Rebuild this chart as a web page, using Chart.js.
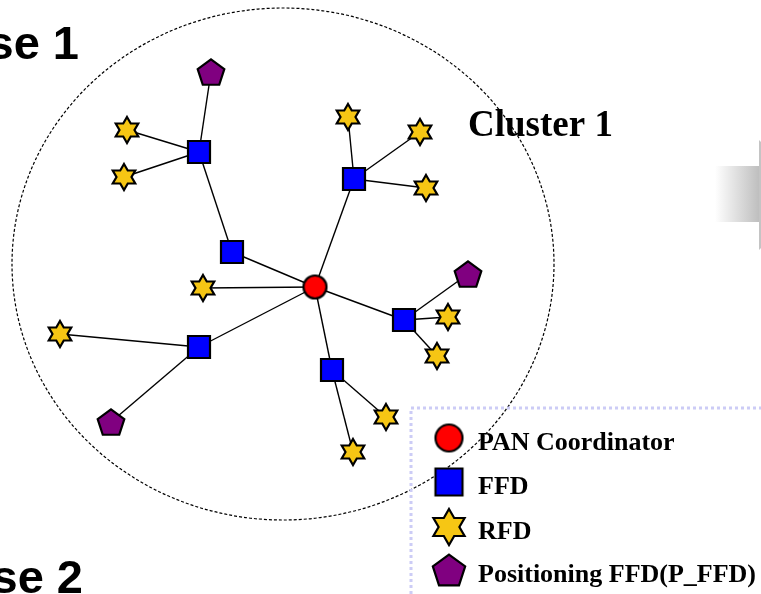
<!DOCTYPE html>
<html>
<head>
<meta charset="utf-8">
<script src="https://cdn.jsdelivr.net/npm/chart.js@4/dist/chart.umd.min.js"></script>
<style>
  html, body { margin: 0; padding: 0; background: #ffffff; }
  #wrap { width: 761px; height: 594px; }
</style>
</head>
<body>
<div id="wrap"><canvas id="netChart" width="761" height="594"></canvas></div>
<script>
// NODES (picture coordinates, y downwards)
const panNode   = [[315, 287]];
const ffdNodes  = [[199, 152], [354, 179], [232, 252], [404, 320], [199, 347], [332, 370]];
const rfdNodes  = [[127, 130], [124, 177], [348, 117], [420, 132], [426, 188], [203, 288],
                   [448, 317], [437, 356], [60, 334], [386, 417], [353, 452]];
const pffdNodes = [[211, 72], [468, 274], [111, 422]];

// LINKS  C = coordinator, F = FFD, R = RFD, P = P_FFD
const links = [
    ["C", "F1"], ["C", "F2"], ["C", "F3"], ["C", "F4"], ["C", "F5"], ["C", "R5"],
    ["F0", "F2"], ["F0", "P0"], ["F0", "R0"], ["F0", "R1"],
    ["F1", "R2"], ["F1", "R3"], ["F1", "R4"],
    ["F3", "P1"], ["F3", "R6"], ["F3", "R7"],
    ["F4", "R8"], ["F4", "P2"],
    ["F5", "R9"], ["F5", "R10"]
];

// cluster boundary: centre + radii
const clusterCenter = [283, 264];
const clusterRadii  = [271, 256];

const legendLabels = ["PAN Coordinator", "FFD", "RFD", "Positioning FFD(P_FFD)"];
const legendRows   = [438, 482, 527, 570];

const COLORS = { pan: "#ff0000", ffd: "#0000ff", rfd: "#f6c614", pffd: "#800080" };

// ICONS
function makeIcon(shape, size, fill) {
    let c = document.createElement("canvas");
    c.width = size + 6;
    c.height = size + 6;
    let ctx = c.getContext("2d");
    let cx = c.width / 2, cy = c.height / 2, R = size / 2;
    ctx.beginPath();
    if (shape === "circle") {
        ctx.arc(cx, cy, R, 0, Math.PI * 2);
    } else if (shape === "square") {
        ctx.rect(cx - R, cy - R, size, size);
    } else if (shape === "star") {
        let r = R / Math.sqrt(3);
        for (let i = 0; i < 12; i++) {
            let a = -Math.PI / 2 + i * Math.PI / 6;
            let rr = i % 2 === 0 ? R : r;
            ctx.lineTo(cx + rr * Math.cos(a), cy + rr * Math.sin(a));
        }
        ctx.closePath();
    } else if (shape === "pentagon") {
        let oy = cy + R * 0.1;
        for (let i = 0; i < 5; i++) {
            let a = -Math.PI / 2 + i * 2 * Math.PI / 5;
            ctx.lineTo(cx + R * Math.cos(a), oy + R * Math.sin(a));
        }
        ctx.closePath();
    }
    ctx.fillStyle = fill;
    ctx.fill();
    ctx.lineWidth = 2.2;
    ctx.lineJoin = "miter";
    ctx.strokeStyle = "#000000";
    ctx.stroke();
    return c;
}

const icons = {
    pan: makeIcon("circle", 23, COLORS.pan),
    ffd: makeIcon("square", 22, COLORS.ffd),
    rfd: makeIcon("star", 26, COLORS.rfd),
    pffd: makeIcon("pentagon", 28, COLORS.pffd)
};
const legendIcons = [
    makeIcon("circle", 27, COLORS.pan),
    makeIcon("square", 27, COLORS.ffd),
    makeIcon("star", 36, COLORS.rfd),
    makeIcon("pentagon", 34, COLORS.pffd)
];

function lookup(key) {
    if (key === "C") return panNode[0];
    let idx = parseInt(key.slice(1));
    if (key[0] === "F") return ffdNodes[idx];
    if (key[0] === "R") return rfdNodes[idx];
    return pffdNodes[idx];
}

const toPts = arr => arr.map(p => ({ x: p[0], y: p[1] }));

// link datasets
let linkSets = links.map(l => ({
    type: "line",
    data: [lookup(l[0]), lookup(l[1])].map(p => ({ x: p[0], y: p[1] })),
    borderColor: "#000000",
    borderWidth: 1.4,
    pointRadius: 0,
    fill: false,
    order: 5
}));

function nodeSet(arr, icon) {
    return {
        type: "scatter",
        data: toPts(arr),
        pointStyle: icon,
        pointRadius: 10,
        order: 0
    };
}

// DRAWING EXTRAS
const decorPlugin = {
    id: "decor",
    beforeDatasetsDraw(chart) {
        let ctx = chart.ctx;
        let sx = chart.scales.x, sy = chart.scales.y;
        let cx = sx.getPixelForValue(clusterCenter[0]);
        let cy = sy.getPixelForValue(clusterCenter[1]);
        let rx = sx.getPixelForValue(clusterCenter[0] + clusterRadii[0]) - cx;
        let ry = sy.getPixelForValue(clusterCenter[1] + clusterRadii[1]) - cy;

        ctx.save();
        // grey arrow on the right
        let g = ctx.createLinearGradient(715, 0, 760, 0);
        g.addColorStop(0, "#ffffff");
        g.addColorStop(1, "#bdbdbd");
        ctx.fillStyle = g;
        ctx.fillRect(715, 166, 45, 56);
        ctx.fillStyle = "#c4c4c4";
        ctx.beginPath();
        ctx.moveTo(759, 140);
        ctx.lineTo(815, 195);
        ctx.lineTo(759, 250);
        ctx.closePath();
        ctx.fill();

        // cluster boundary
        ctx.beginPath();
        ctx.ellipse(cx, cy, Math.abs(rx), Math.abs(ry), 0, 0, Math.PI * 2);
        ctx.setLineDash([3, 2]);
        ctx.lineWidth = 1.2;
        ctx.strokeStyle = "#000000";
        ctx.stroke();
        ctx.restore();
    },
    afterDatasetsDraw(chart) {
        let ctx = chart.ctx;
        ctx.save();

        // legend box
        ctx.setLineDash([3, 3]);
        ctx.lineWidth = 3;
        ctx.strokeStyle = "#ccccf6";
        ctx.beginPath();
        ctx.moveTo(411, 600);
        ctx.lineTo(411, 408);
        ctx.lineTo(765, 408);
        ctx.stroke();
        ctx.setLineDash([]);

        ctx.fillStyle = "#000000";
        ctx.textBaseline = "alphabetic";
        ctx.font = "bold 26px 'Liberation Serif', 'Times New Roman', serif";
        legendLabels.forEach((t, i) => {
            let ic = legendIcons[i];
            ctx.drawImage(ic, 449 - ic.width / 2, legendRows[i] - ic.height / 2);
            ctx.fillText(t, 478, legendRows[i] + 12);
        });

        // titles
        ctx.font = "bold 37px 'Liberation Serif', 'Times New Roman', serif";
        ctx.fillText("Cluster 1", 468, 136);

        ctx.font = "bold 47px 'Liberation Sans', Arial, sans-serif";
        ctx.textAlign = "right";
        ctx.fillText("se 1", 79, 59);
        ctx.fillText("se 2", 83, 593);
        ctx.restore();
    }
};

new Chart(document.getElementById("netChart"), {
    type: "scatter",
    data: {
        datasets: [
            nodeSet(panNode, icons.pan),
            nodeSet(ffdNodes, icons.ffd),
            nodeSet(rfdNodes, icons.rfd),
            nodeSet(pffdNodes, icons.pffd),
            ...linkSets
        ]
    },
    options: {
        responsive: false,
        animation: false,
        layout: { padding: 0, autoPadding: false },
        plugins: {
            legend: { display: false },
            tooltip: { enabled: false }
        },
        scales: {
            x: { type: "linear", min: 0, max: 761, display: false },
            y: { type: "linear", min: 0, max: 594, reverse: true, display: false }
        }
    },
    plugins: [decorPlugin]
});
</script>
</body>
</html>
